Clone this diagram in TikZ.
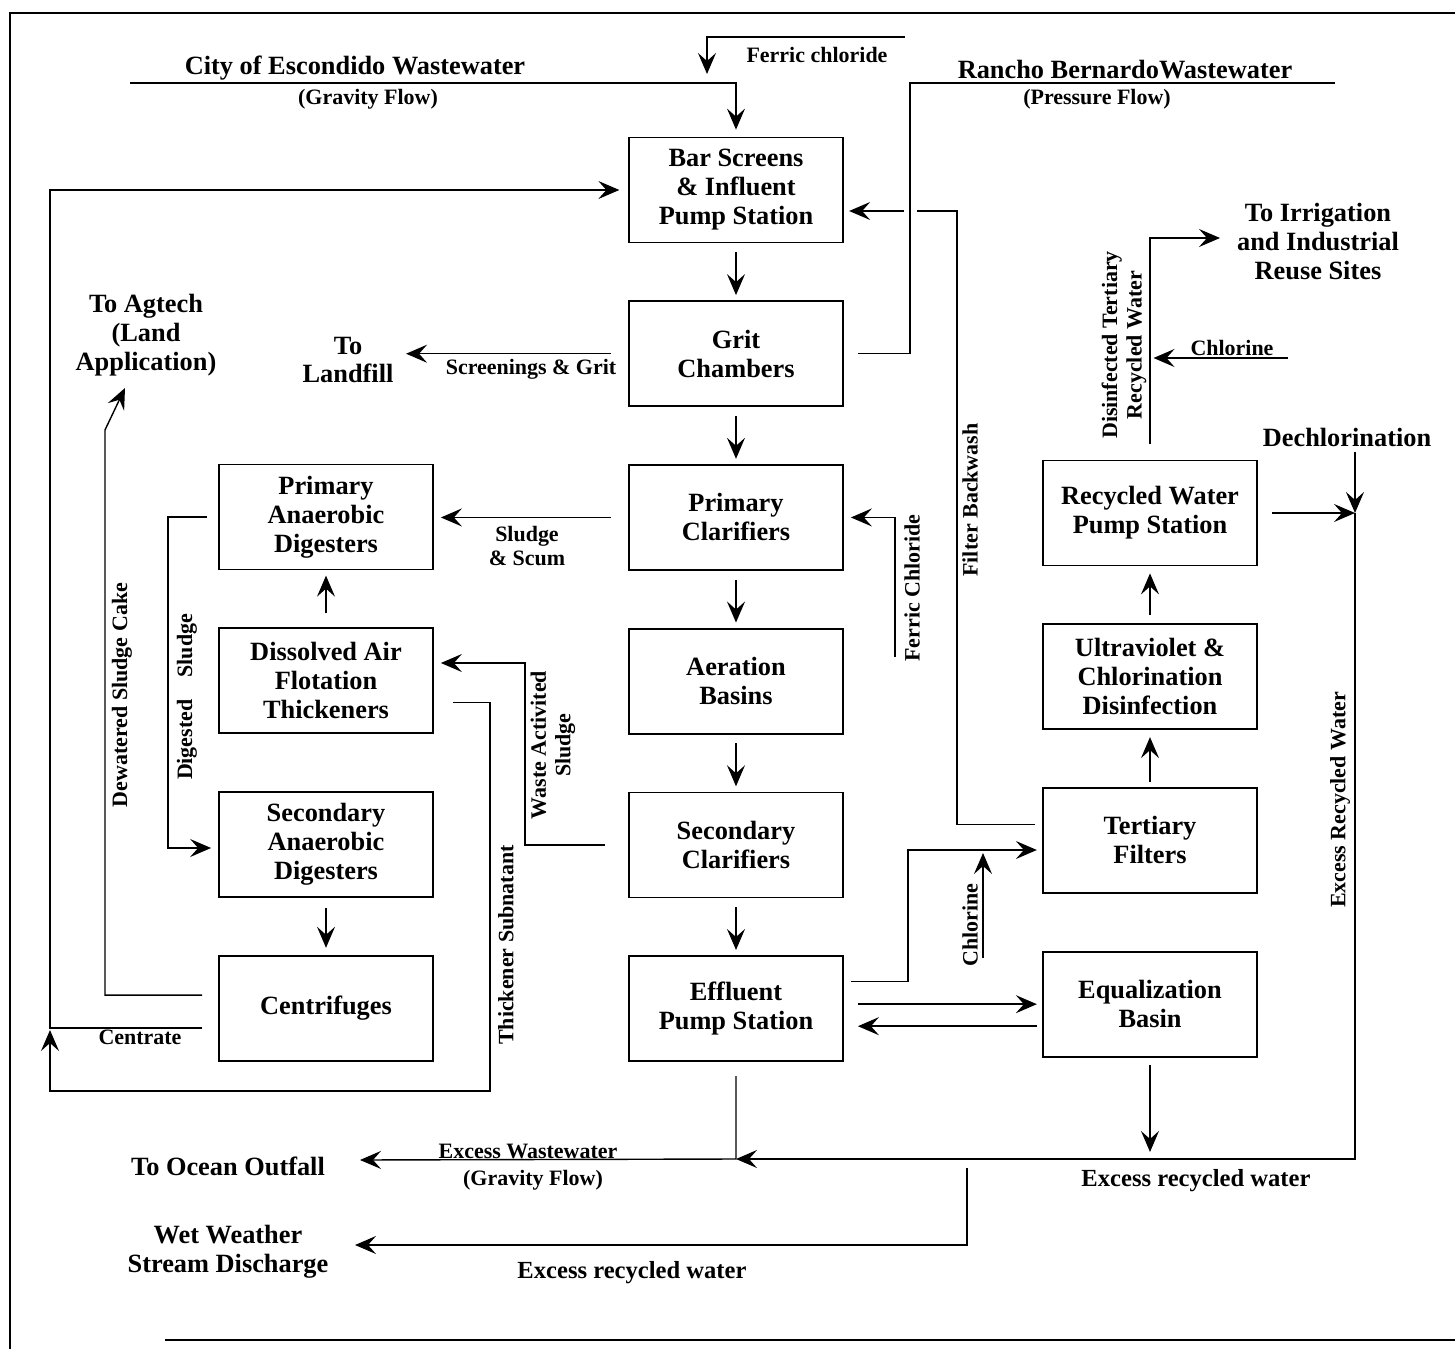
\documentclass[tikz,border=0pt]{standalone}
\usepackage{fontspec}
\setmainfont{Liberation Serif}
\usepackage{tikz}
\usetikzlibrary{positioning, arrows.meta, calc}

\begin{document}
\begin{tikzpicture}[
    x=0.02cm, y=-0.02cm, % pixel-like units, y runs downwards
    node distance=1.14cm, % gap between stacked process boxes
    box/.style={ % Style for the process boxes
        rectangle,
        draw=black,
        line width=1pt,
        minimum width=4.28cm,
        minimum height=2.1cm,
        inner sep=2pt,
        align=center,
        font=\fontsize{15}{16.5}\selectfont\bfseries
    },
    % Free text around the plant
    biglabel/.style={align=center, inner sep=1pt, font=\fontsize{15}{16.5}\selectfont\bfseries},
    smalllabel/.style={align=center, inner sep=1pt, font=\fontsize{12.5}{13.5}\selectfont\bfseries},
    flowlabel/.style={align=center, inner sep=1pt, font=\fontsize{14}{16}\selectfont\bfseries},
    sidelabel/.style={smalllabel, rotate=90, font=\fontsize{12.5}{14}\selectfont\bfseries},
    % Lines
    flow/.style={
        -{Stealth[length=4.2mm, width=3.6mm, inset=1.6mm]},
        line width=0.8pt
    },
    pipe/.style={line width=0.8pt}
]

\useasboundingbox (0,0) rectangle (1455,1349);

% Frame
\draw[line width=1.6pt] (1455,13) -- (10,13) -- (10,1349);
\draw[line width=1.6pt] (165,1340) -- (1455,1340);

% Liquid train
\node[box] (bar) at (736,190) {Bar Screens\\ \& Influent\\ Pump Station};
\node[box, below=of bar] (grit) {Grit\\ Chambers};
\node[box, below=of grit] (primclar) {Primary\\ Clarifiers};
\node[box, below=of primclar] (aeration) {Aeration\\ Basins};
\node[box, below=of aeration] (secclar) {Secondary\\ Clarifiers};
\node[box, below=of secclar] (effluent) {Effluent\\ Pump Station};

% Solids train
\node[box] (primdig) at (326,517) {Primary\\ Anaerobic\\ Digesters};
\node[box, below=of primdig] (daf) {Dissolved Air\\ Flotation\\ Thickeners};
\node[box, below=of daf] (secdig) {Secondary\\ Anaerobic\\ Digesters};
\node[box, below=of secdig] (centri) {Centrifuges};

% Tertiary train
\node[box] (rwps) at (1150,513) {Recycled Water\\ Pump Station};
\node[box, below=of rwps] (uvdis) {Ultraviolet \&\\ Chlorination\\ Disinfection};
\node[box, below=of uvdis] (tertiary) {Tertiary\\ Filters};
\node[box, below=of tertiary] (eqbasin) {Equalization\\ Basin};

% Labels
\node[smalllabel] (ferric1) at (817,55) {Ferric chloride};
\node[biglabel] (escondido) at (355,68) {City of Escondido Wastewater};
\node[smalllabel] (gravity1) at (368,99) {(Gravity Flow)};
\node[biglabel] (rancho) at (1125,70) {Rancho BernardoWastewater};
\node[smalllabel] (pressure) at (1097,99) {(Pressure Flow)};
\node[biglabel] (agtech) at (146,335) {To Agtech\\ (Land\\ Application)};
\node[biglabel] (landfill) at (348,360) {To\\ Landfill};
\node[smalllabel] (screenings) at (531,369) {Screenings \& Grit};
\node[smalllabel] (scum) at (527,546) {Sludge\\ \& Scum};
\node[sidelabel] (ferric2) at (912,588) {Ferric Chloride};
\node[sidelabel] (backwash) at (970,500) {Filter Backwash};
\node[biglabel] (irrigation) at (1318,242) {To Irrigation\\ and Industrial\\ Reuse Sites};
\node[smalllabel] (chlor1) at (1232,348) {Chlorine};
\node[sidelabel] (disinfected) at (1124,345) {Disinfected Tertiary\\ Recycled Water};
\node[biglabel] (dechlor) at (1347,437) {Dechlorination};
\node[sidelabel] (dewatered) at (122,695) {Dewatered Sludge Cake};
\node[sidelabel] (digested) at (187,697) {Digested\quad Sludge};
\node[sidelabel] (was) at (553,745) {Waste Activited\\ Sludge};
\node[sidelabel] (subnatant) at (506,945) {Thickener Subnatant};
\node[smalllabel] (centrate) at (140,1037) {Centrate};
\node[sidelabel] (chlor2) at (970,925) {Chlorine};
\node[sidelabel] (excessrw) at (1340,800) {Excess Recycled Water};
\node[flowlabel] (excess1) at (1196,1181) {Excess recycled water};
\node[smalllabel] (excessww) at (528,1151) {Excess Wastewater};
\node[smalllabel] (gravity2) at (533,1180) {(Gravity Flow)};
\node[biglabel] (ocean) at (228,1166) {To Ocean Outfall};
\node[biglabel] (wetweather) at (228,1252) {Wet Weather\\ Stream Discharge};
\node[flowlabel] (excess2) at (632,1273) {Excess recycled water};

% Free ends and corners
\coordinate (ferricin) at (905,37);
\coordinate (ferricout) at (707,74);
\coordinate (escin) at (130,83);
\coordinate (ranchoin) at (1335,83);
\coordinate (ranchox) at (910,0);
\coordinate (bwtop) at (957,211);
\coordinate (bwhop) at (917,211);
\coordinate (bwhop2) at (904,211);
\coordinate (loopcorner) at (50,190);
\coordinate (subcorner) at (490,1091);
\coordinate (subout) at (50,1030);
\coordinate (cakecorner) at (105,430);
\coordinate (agtechin) at (125,388);
\coordinate (digcorner) at (168,848);
\coordinate (wascorner) at (525,663);
\coordinate (ferricc) at (895,657);
\coordinate (effcorner) at (908,850);
\coordinate (chlorin2) at (983,958);
\coordinate (chlorjoin) at (983,853);
\coordinate (chlorin1) at (1288,358);
\coordinate (irrigationin) at (1220,238);
\coordinate (dechlorjoin) at (1355,513);
\coordinate (excessturn) at (1355,1159);
\coordinate (oceanin) at (360,1160);
\coordinate (wetin) at (967,1168);
\coordinate (wetout) at (355,1245);
\coordinate (eqback) at ($(eqbasin.west)+(0,22)$);

% Inflows
\draw[flow] (ferricin) -| (ferricout);
\draw[flow, shorten >=4pt] (escin) -| (bar.north);
\draw[pipe, shorten >=8pt] (ranchoin) -| (grit.east -| ranchox) -- (grit.east);

% Liquid train arrows
\draw[flow, shorten <=5pt, shorten >=3pt] (bar) -- (grit);
\draw[flow, shorten <=5pt, shorten >=3pt] (grit) -- (primclar);
\draw[flow, shorten <=5pt, shorten >=3pt] (primclar) -- (aeration);
\draw[flow, shorten <=5pt, shorten >=3pt] (aeration) -- (secclar);
\draw[flow, shorten <=5pt, shorten >=3pt] (secclar) -- (effluent);

% Side streams
\draw[flow, shorten <=10pt, shorten >=6pt] (grit.west) -- (grit.west -| landfill.east);
\draw[flow, shorten <=10pt, shorten >=4pt] (primclar.west) -- (primclar.west -| primdig.east);
\draw[flow, shorten >=4pt] (ferricc) |- (primclar.east);
\draw[pipe, shorten <=4pt] ($(tertiary.west)+(0,-16)$) -| (bwtop) -- (bwhop);
\draw[flow, shorten >=3pt] (bwhop2) -- (bwhop2 -| bar.east);

% Solids handling
\draw[flow, shorten <=8pt, shorten >=3pt] (daf) -- (primdig);
\draw[flow, shorten <=6pt, shorten >=4pt] (secdig) -- (centri);
\draw[flow, shorten >=4pt] ($(primdig.west)+(-11,0)$) -| (digcorner) -- (digcorner -| secdig.west);
\draw[flow, shorten >=4pt] ($(secclar.west)+(-23,0)$) -| (wascorner) -- (wascorner -| daf.east);
\draw[flow] ($(centri.west)+(-16,-13)$) -| (cakecorner) -- (agtechin);
\draw[flow, shorten <=9pt, shorten >=5pt] ($(centri.west)+(0,20)$) -| (loopcorner) -- (bar.west);
\draw[flow] ($(daf.east)+(19,22)$) -| (subcorner) -| (subout);

% Tertiary treatment
\draw[flow, shorten <=4pt, shorten >=3pt] ($(effluent.east)+(0,-27)$) -| (effcorner) -- (effcorner -| tertiary.west);
\draw[flow] (chlorin2) -- (chlorjoin);
\draw[flow, shorten <=3pt, shorten >=4pt] (tertiary) -- (uvdis);
\draw[flow, shorten <=5pt, shorten >=4pt] (uvdis) -- (rwps);
\draw[flow, shorten <=9pt] (rwps.north) |- (irrigationin);
\draw[flow, shorten >=2pt] (chlorin1) -- (chlorin1 -| rwps.north);
\draw[flow, shorten <=8pt] (rwps.east) -- (rwps.east -| dechlorjoin);
\draw[flow, shorten <=2pt] (dechlorjoin |- dechlor.south) -- (dechlorjoin);

% Equalization and excess flows
\draw[flow, shorten <=8pt, shorten >=3pt] (effluent.east |- eqbasin.west) -- (eqbasin.west);
\draw[flow, shorten <=3pt, shorten >=8pt] (eqback) -- (eqback -| effluent.east);
\draw[flow, shorten <=4pt, shorten >=4pt] (eqbasin.south) -- (eqbasin.south |- excessturn);
\draw[flow] (dechlorjoin) -- (excessturn) -- (effluent.south |- excessturn);
\draw[flow, shorten <=8pt] (effluent.south) -- (effluent.south |- excessturn) -- (oceanin);
\draw[flow] (wetin) |- (wetout);

\end{tikzpicture}
\end{document}
